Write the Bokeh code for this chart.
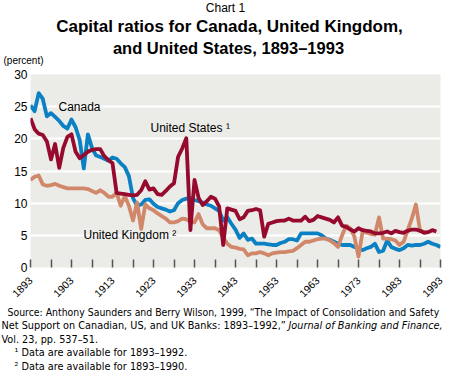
import math
from bokeh.plotting import figure
from bokeh.models import Label, FixedTicker, Range1d
from bokeh.layouts import column
from bokeh.embed import file_html
from bokeh.resources import INLINE

# ---------------- data ----------------
years_canada = list(range(1893, 1994))
canada = [
    25.2, 24.3, 27.1, 26.2, 23.5, 24.0, 23.4, 22.8, 22.0, 21.6,   # 1893-1902
    23.0, 21.8, 19.8, 15.4, 20.7, 18.6, 17.4, 17.2, 16.9, 16.6,   # 1903-1912
    17.1, 16.9, 16.2, 15.6, 14.2, 10.8, 9.6, 9.8, 10.5, 10.6,     # 1913-1922
    9.9, 9.4, 9.2, 9.0, 8.7, 8.9, 10.0, 10.5, 10.7, 10.8,         # 1923-1932
    10.5, 10.3, 10.1, 9.8, 9.6, 9.2, 8.8, 7.3, 7.8, 6.8,          # 1933-1942
    5.9, 4.6, 5.3, 4.3, 4.5, 3.7, 3.7, 3.7, 3.6, 3.5,             # 1943-1952
    3.5, 3.8, 4.0, 4.4, 4.4, 4.2, 5.3, 5.3, 5.3, 5.3,             # 1953-1962
    5.3, 5.0, 4.5, 4.3, 4.0, 3.7, 3.5, 3.5, 3.5, 3.2,             # 1963-1972
    3.0, 2.7, 3.0, 3.2, 3.7, 2.4, 2.6, 4.2, 3.2, 2.9,             # 1973-1982
    2.7, 3.0, 3.5, 3.4, 3.5, 3.5, 3.7, 4.0, 3.7, 3.5,             # 1983-1992
    3.2,                                                          # 1993
]

years_us = list(range(1893, 1993))
united_states = [
    23.2, 21.5, 20.8, 20.6, 19.6, 16.8, 19.2, 15.5, 18.6, 20.3,   # 1893-1902
    20.7, 18.0, 17.0, 17.5, 18.0, 18.3, 18.4, 18.4, 17.3, 16.7,   # 1903-1912
    16.2, 11.6, 11.5, 11.4, 11.3, 11.2, 11.3, 12.0, 13.4, 12.1,   # 1913-1922
    12.3, 11.4, 11.3, 11.9, 12.6, 13.1, 17.2, 18.5, 20.1, 5.8,    # 1923-1932
    13.6, 10.8, 9.7, 10.3, 11.0, 10.7, 9.5, 3.5, 9.2, 9.0,        # 1933-1942
    8.8, 7.5, 7.8, 8.8, 8.9, 9.1, 8.9, 4.8, 6.8, 7.0,             # 1943-1952
    7.2, 7.3, 7.3, 7.6, 7.3, 7.3, 7.3, 7.9, 7.2, 7.4,             # 1953-1962
    8.0, 7.8, 7.6, 7.4, 7.0, 7.8, 6.5, 6.3, 5.9, 5.6,             # 1963-1972
    6.1, 5.8, 5.7, 5.6, 5.3, 5.3, 5.4, 5.6, 5.3, 5.7,             # 1973-1982
    5.5, 5.4, 5.7, 5.9, 5.9, 5.7, 5.4, 5.5, 5.8, 5.6,             # 1983-1992
]

years_uk = list(range(1893, 1991))
united_kingdom = [
    13.6, 14.1, 14.3, 12.9, 12.7, 12.8, 13.0, 12.7, 12.5, 12.3,   # 1893-1902
    12.3, 12.3, 12.3, 12.3, 12.2, 11.9, 11.6, 12.0, 11.6, 11.0,   # 1903-1912
    11.0, 11.6, 9.6, 11.1, 9.6, 7.3, 10.1, 6.0, 9.8, 9.2,         # 1913-1922
    8.9, 8.4, 8.0, 7.6, 7.0, 7.0, 7.2, 7.6, 7.5, 7.1,             # 1923-1932
    7.0, 8.3, 6.7, 6.1, 6.1, 6.1, 5.8, 4.6, 3.7, 3.2,             # 1933-1942
    3.1, 2.9, 2.8, 1.9, 2.2, 2.2, 2.4, 2.2, 1.9, 2.2,             # 1943-1952
    2.3, 2.4, 2.4, 2.5, 2.6, 3.0, 3.5, 4.0, 4.0, 4.2,             # 1953-1962
    4.4, 4.5, 4.5, 4.2, 3.8, 3.2, 5.0, 6.5, 6.1, 4.8,             # 1963-1972
    1.7, 5.6, 5.4, 5.2, 5.1, 7.8, 4.5, 4.5, 4.4, 4.2,             # 1973-1982
    3.5, 4.0, 5.8, 7.6, 9.8, 5.8, 5.5, 5.5,                       # 1983-1990
]

x_ticks = list(range(1893, 1994, 5))
x_label_years = list(range(1893, 1994, 10))
y_ticks = [0, 5, 10, 15, 20, 25, 30]
grid_values = [5, 10, 15, 20, 25]

title_top = "Chart 1"
title_line1 = "Capital ratios for Canada, United Kingdom,"
title_line2 = "and United States, 1893\u20131993"
unit_label = "(percent)"
source_lines = [
    "Source: Anthony Saunders and Berry Wilson, 1999, \u201cThe Impact of Consolidation and Safety",
    "Net Support on Canadian, US, and UK Banks: 1893\u20131992,\u201d",
    "Journal of Banking and Finance,",
    "Vol. 23, pp. 537\u201351.",
    "\u00b9 Data are available for 1893\u20131992.",
    "\u00b2 Data are available for 1893\u20131990.",
]

# ---------------- style ----------------
FONT = "Liberation Sans"
FOOT_FONT = "DejaVu Sans Condensed"
C_CANADA = "#0b80c3"
C_US = "#960a2e"
C_UK = "#d0876a"
BG = "#ebece8"
W = 449

def text_panel(h):
    f = figure(width=W, height=h, x_range=Range1d(0, W), y_range=Range1d(h, 0),
               x_axis_type=None, y_axis_type=None,
               output_backend="svg", toolbar_location=None,
               min_border_left=0, min_border_right=0,
               min_border_top=0, min_border_bottom=0)
    f.frame_align = False
    f.grid.visible = False
    f.outline_line_color = None
    f.background_fill_color = "white"
    return f

def lab(f, txt, x, y, size, style="normal", align="left", font=FONT):
    f.add_layout(Label(x=x, y=y, text=txt, text_font=font, text_font_size=f"{size}px",
                       text_font_style=style, text_align=align, text_baseline="middle",
                       text_color="black"))

# panels stacked: top 0-66, main 66-303, bottom 303-389 (page px)
top = text_panel(66)
lab(top, title_top, 225, 7, 12, align="center")
lab(top, title_line1, 229, 26, 17, style="bold", align="center")
lab(top, title_line2, 228, 47, 16.5, style="bold", align="center")
lab(top, unit_label, 3, 60, 10)

p = figure(width=W, height=237, x_range=Range1d(1893, 1993), y_range=Range1d(0, 30),
           output_backend="svg", toolbar_location=None,
           min_border_left=30, min_border_right=9, min_border_top=8, min_border_bottom=32)
p.frame_align = False
p.background_fill_color = BG
p.border_fill_color = "white"
p.outline_line_color = None
p.xgrid.grid_line_color = None
p.ygrid.ticker = FixedTicker(ticks=grid_values)
p.ygrid.grid_line_color = "white"
p.ygrid.grid_line_width = 2

xa = p.xaxis[0]
xa.ticker = FixedTicker(ticks=x_ticks, minor_ticks=[])
xa.major_label_overrides = {t: ("" if t not in x_label_years else str(t)) for t in x_ticks}
xa.axis_line_color = None
xa.major_tick_in = 8
xa.major_tick_out = 0
xa.major_tick_line_color = "#555555"
xa.major_tick_line_width = 1.5
xa.major_label_orientation = math.pi / 4
xa.major_label_text_font = FONT
xa.major_label_text_font_size = "10.5px"
xa.major_label_text_color = "black"
xa.major_label_standoff = 11

ya = p.yaxis[0]
ya.ticker = FixedTicker(ticks=y_ticks, minor_ticks=[])
ya.axis_line_color = None
ya.major_tick_line_color = None
ya.major_tick_in = 0
ya.major_tick_out = 0
ya.major_label_text_font = FONT
ya.major_label_text_font_size = "12px"
ya.major_label_text_color = "black"
ya.major_label_standoff = 3

p.line(years_canada, canada, line_color=C_CANADA, line_width=3.8, line_join="round")
p.line(years_uk, united_kingdom, line_color=C_UK, line_width=3.8, line_join="round")
p.line(years_us, united_states, line_color=C_US, line_width=3.8, line_join="round")

# labels inside frame: screen coords relative to frame (frame left page x=30, bottom page y=271)
def flab(txt, px, py, size):
    p.add_layout(Label(x=px - 30, y=271 - py, x_units="screen", y_units="screen", text=txt,
                       text_font=FONT, text_font_size=f"{size}px", text_align="left",
                       text_baseline="middle", text_color="black"))

flab("Canada", 58, 110, 12)
flab("United States \u00b9", 150, 131, 12)
flab("United Kingdom \u00b2", 83, 238, 12)

bottom = text_panel(86)
FS = 10.8
lab(bottom, source_lines[0], 7, 8, 10.4, font=FOOT_FONT)
lab(bottom, source_lines[1], 1, 22, FS, font=FOOT_FONT)
lab(bottom, source_lines[2], 288, 22, FS, style="italic", font=FOOT_FONT)
lab(bottom, source_lines[3], 1, 36, FS, font=FOOT_FONT)
lab(bottom, source_lines[4], 14, 49, FS, font=FOOT_FONT)
lab(bottom, source_lines[5], 14, 63, FS, font=FOOT_FONT)

layout = column(top, p, bottom, spacing=0)
open("out.html", "w").write(file_html(layout, INLINE))
